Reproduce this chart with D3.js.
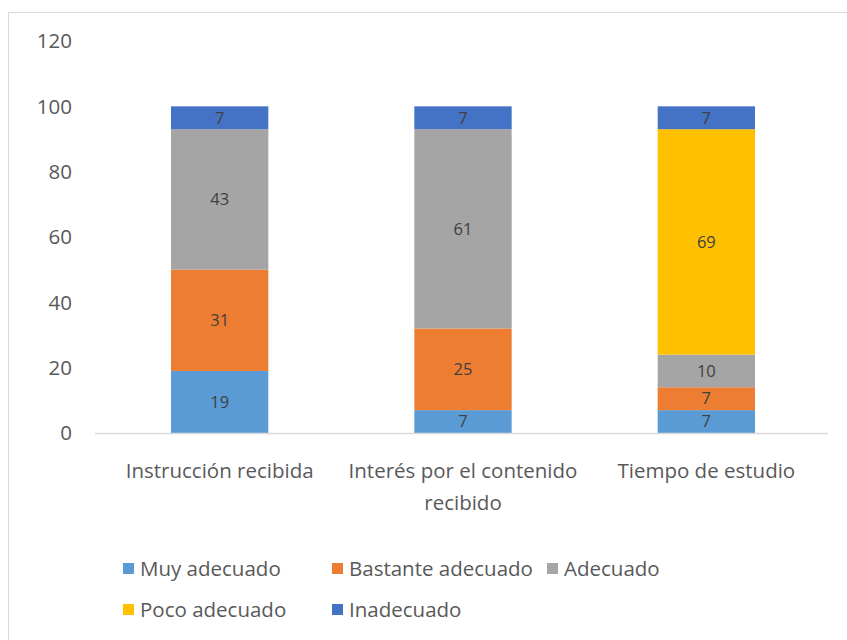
<!DOCTYPE html>
<html lang="es">
<head>
  <meta charset="UTF-8">
  <title>Valoración</title>
  <script src="https://d3js.org/d3.v7.min.js"></script>
  <style>
    body { margin: 0; background: #fff; font-family: "Open Sans", "Liberation Sans", sans-serif; }
    text { fill: #595959; }
  </style>
</head>
<body>
<div id="chart"></div>
<script>
const categories = ["Instrucción recibida", "Interés por el contenido recibido", "Tiempo de estudio"];
const series = ["Muy adecuado", "Bastante adecuado", "Adecuado", "Poco adecuado", "Inadecuado"];
const muyAdecuado = [19, 7, 7];
const bastanteAdecuado = [31, 25, 7];
const adecuado = [43, 61, 10];
const pocoAdecuado = [0, 0, 69];
const inadecuado = [7, 7, 7];
const yTicks = [0, 20, 40, 60, 80, 100, 120];
const colors = ["#5B9BD5", "#ED7D31", "#A5A5A5", "#FFC000", "#4472C4"];

const width = 847, height = 640;
const fs = 20.5;       // axis + legend text
const labelFs = 16.5;  // data labels
const svg = d3.select("#chart").append("svg")
  .attr("width", width).attr("height", height);

// chart border
svg.append("rect")
  .attr("x", 8.5).attr("y", 12.5)
  .attr("width", 850).attr("height", 640)
  .attr("fill", "none").attr("stroke", "#d9d9d9");

const table = categories.map((c, i) => ({
  cat: c,
  "Muy adecuado": muyAdecuado[i],
  "Bastante adecuado": bastanteAdecuado[i],
  "Adecuado": adecuado[i],
  "Poco adecuado": pocoAdecuado[i],
  "Inadecuado": inadecuado[i]
}));

const stacked = d3.stack().keys(series)(table);

const x = d3.scaleBand().domain(categories).range([98, 828]).paddingInner(0.6).paddingOuter(0.3);
const y = d3.scaleLinear().domain([0, 120]).range([433, 41]);
const color = d3.scaleOrdinal().domain(series).range(colors);

// y tick labels
svg.selectAll(".ytick").data(yTicks).enter().append("text")
  .attr("x", 72).attr("y", d => y(d)).attr("dy", "0.35em")
  .attr("text-anchor", "end").attr("font-size", fs)
  .text(d => d);

// bars
const layer = svg.selectAll(".layer").data(stacked).enter().append("g")
  .attr("fill", d => color(d.key));

layer.selectAll("rect").data(d => d.filter(p => p[1] - p[0] > 0)).enter().append("rect")
  .attr("x", d => x(d.data.cat))
  .attr("width", x.bandwidth())
  .attr("y", d => y(d[1]))
  .attr("height", d => y(d[0]) - y(d[1]));

layer.selectAll("text").data(d => d.filter(p => p[1] - p[0] > 0)).enter().append("text")
  .attr("x", d => x(d.data.cat) + x.bandwidth() / 2)
  .attr("y", d => (y(d[0]) + y(d[1])) / 2)
  .attr("dy", "0.35em").attr("text-anchor", "middle").attr("font-size", labelFs)
  .style("fill", "#404040")
  .text(d => d[1] - d[0]);

// x axis line
svg.append("line")
  .attr("x1", 95).attr("x2", 828).attr("y1", y(0) + 0.5).attr("y2", y(0) + 0.5)
  .attr("stroke", "#d9d9d9").attr("stroke-width", 1.5);

// category labels (wrapped like the original)
const catLines = {
  "Instrucción recibida": ["Instrucción recibida"],
  "Interés por el contenido recibido": ["Interés por el contenido", "recibido"],
  "Tiempo de estudio": ["Tiempo de estudio"]
};
categories.forEach(c => {
  const t = svg.append("text")
    .attr("x", x(c) + x.bandwidth() / 2).attr("y", 471)
    .attr("text-anchor", "middle").attr("font-size", fs);
  catLines[c].forEach((line, i) => {
    t.append("tspan").attr("x", x(c) + x.bandwidth() / 2)
      .attr("dy", i === 0 ? "0.35em" : 32).text(line);
  });
});

// legend
const legendPos = [[123, 569], [332, 569], [547, 569], [123, 610], [332, 610]];
const legend = svg.selectAll(".legend").data(series).enter().append("g")
  .attr("transform", (d, i) => `translate(${legendPos[i][0]},${legendPos[i][1]})`);
legend.append("rect")
  .attr("x", 0).attr("y", -6).attr("width", 11).attr("height", 11)
  .attr("fill", d => color(d));
legend.append("text")
  .attr("x", 17).attr("y", 0).attr("dy", "0.35em").attr("font-size", fs)
  .text(d => d);
</script>
</body>
</html>
